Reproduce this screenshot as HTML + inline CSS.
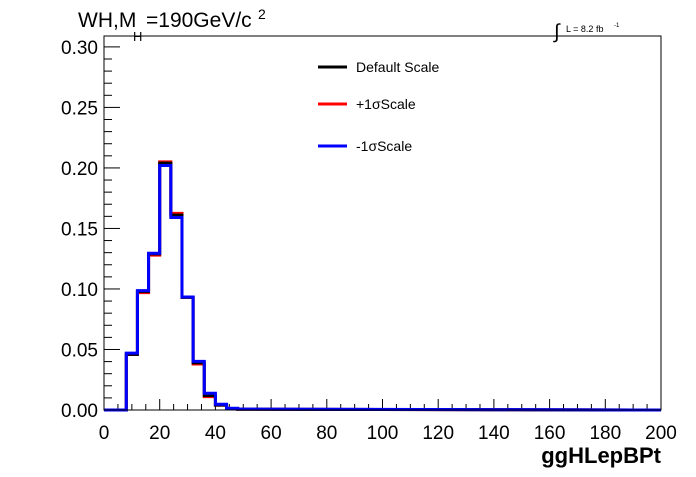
<!DOCTYPE html>
<html><head><meta charset="utf-8"><style>
body{margin:0;background:#fff}
svg text{font-family:"Liberation Sans",Arial,sans-serif}
</style></head><body>
<svg width="696" height="472" viewBox="0 0 696 472">
<rect x="0" y="0" width="696" height="472" fill="#fff"/>
<g id="axes"></g>
<g id="series"></g>
<rect x="104" y="36" width="557" height="374" fill="none" stroke="#000" stroke-width="1"/>
<text x="78" y="27" font-size="21">WH,M</text>
<text x="133" y="41" font-size="13">H</text>
<text x="146" y="27" font-size="21">=190GeV/c</text>
<text x="258" y="19" font-size="14">2</text>
<text x="554" y="38" font-size="20">∫</text>
<text x="566" y="32" font-size="9">L = 8.2 fb</text>
<text x="614" y="27" font-size="6">-1</text>
<text x="661" y="463" font-size="22" font-weight="bold" text-anchor="end">ggHLepBPt</text>
<g>
<line x1="318" y1="67" x2="347" y2="67" stroke="#000" stroke-width="3"/>
<text x="356" y="72" font-size="14">Default Scale</text>
<line x1="318" y1="104" x2="347" y2="104" stroke="#f00" stroke-width="3"/>
<text x="356" y="109" font-size="14">+1σScale</text>
<line x1="318" y1="146" x2="347" y2="146" stroke="#00f" stroke-width="3"/>
<text x="356" y="151" font-size="14">-1σScale</text>
</g>
</svg>
<script>
const binEdges=[0,4,8,12,16,20,24,28,32,36,40,44,48,52];
const defaultVals=[0,0,0.046,0.098,0.129,0.204,0.161,0.093,0.039,0.012,0.004,0.0012,0.0006];
const plusVals=[0,0,0.046,0.097,0.128,0.205,0.1625,0.093,0.038,0.011,0.004,0.0012,0.0006];
const minusVals=[0,0,0.047,0.0986,0.1295,0.202,0.159,0.0934,0.0402,0.0138,0.0047,0.0014,0.0007];
const xTicks=[0,20,40,60,80,100,120,140,160,180,200];
const yTicks=[0,0.05,0.10,0.15,0.20,0.25,0.30];
const yTickLabels=["0.00","0.05","0.10","0.15","0.20","0.25","0.30"];
const NS="http://www.w3.org/2000/svg";
const X0=104,X1=661,Y0=410,Y1=36,XMAX=200,YMAX=0.309;
const sx=v=>X0+(v/XMAX)*(X1-X0);
const sy=v=>Y0-(v/YMAX)*(Y0-Y1);
const axes=document.getElementById('axes'),series=document.getElementById('series');
function mk(tag,attrs,parent){const e=document.createElementNS(NS,tag);for(const k in attrs)e.setAttribute(k,attrs[k]);parent.appendChild(e);return e;}
for(let v=0;v<=XMAX+0.001;v+=5){
 const major=Math.abs(v%20)<0.001;
 const l=mk('line',{x1:sx(v),x2:sx(v),y1:Y0,y2:Y0-(major?11:6),stroke:'#000'},axes);
 
 
}
xTicks.forEach(v=>{const t=mk('text',{x:sx(v),y:Y0+29,'font-size':19,'text-anchor':'middle'},axes);t.textContent=v;
 
 });
for(let i=0;i<=30;i++){const v=i*0.01;const major=i%5===0;
 const l=mk('line',{x1:X0,x2:X0+(major?16:8),y1:sy(v),y2:sy(v),stroke:'#000'},axes);
 
 }
yTicks.forEach((v,i)=>{const t=mk('text',{x:X0-6,y:sy(v)+7,'font-size':19,'text-anchor':'end'},axes);t.textContent=yTickLabels[i];
 
 });
function stepPath(vals){let d='M'+sx(binEdges[0])+','+sy(vals[0]);
 for(let i=0;i<vals.length;i++){d+=' L'+sx(binEdges[i])+','+sy(vals[i])+' L'+sx(binEdges[i+1])+','+sy(vals[i]);}
 d+=' L'+sx(XMAX)+','+sy(0);return d;}
[[plusVals,'#f00','series-plus-sigma'],[defaultVals,'#000','series-default'],[minusVals,'#00f','series-minus-sigma']].forEach(([v,c,n])=>{
 const p=mk('path',{d:stepPath(v),fill:'none',stroke:c,'stroke-width':3},series);
 
 
});
</script>
</body></html>
